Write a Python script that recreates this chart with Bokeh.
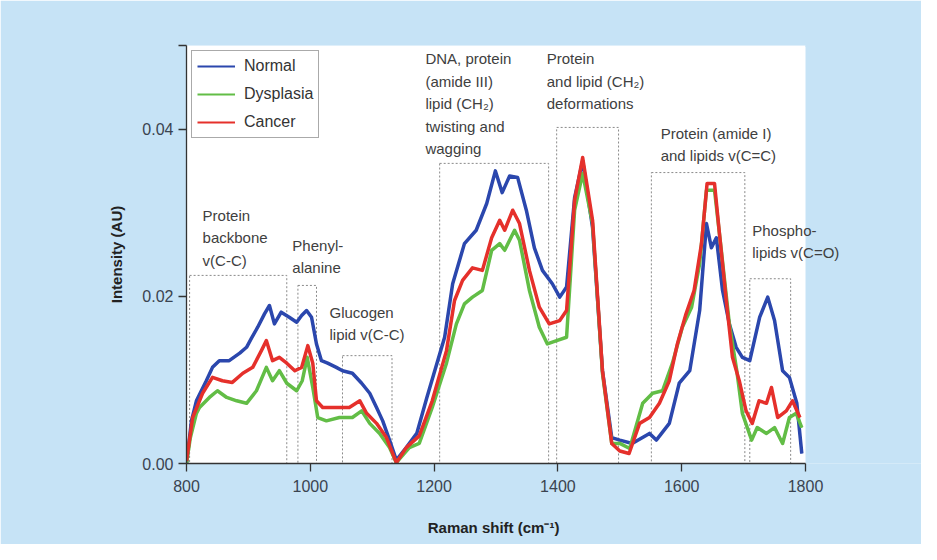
from bokeh.plotting import figure
from bokeh.models import (FixedTicker, Legend, LegendItem, Label, BoxAnnotation, LinearAxis)
from bokeh.embed import file_html
from bokeh.resources import INLINE

# ---- data ----
shift_normal = [800, 808, 816, 832, 842, 853, 869, 886, 897, 905, 915, 926, 934, 942, 953, 966,
                978, 986, 994, 1002, 1010, 1018, 1028, 1042, 1052, 1068, 1083, 1096, 1107, 1117,
                1128, 1139, 1155, 1172, 1188, 1217, 1230, 1249, 1268, 1285, 1299, 1310, 1322,
                1335, 1349, 1362, 1375, 1391, 1403, 1414, 1427, 1440, 1456, 1472, 1487, 1500,
                1520, 1548, 1559, 1580, 1596, 1613, 1629, 1640, 1648, 1656, 1666, 1677, 1688,
                1698, 1710, 1726, 1739, 1750, 1763, 1774, 1786, 1794]
normal = [0.0000, 0.0051, 0.0075, 0.0099, 0.0115, 0.0123, 0.0123, 0.0132, 0.0139, 0.0150,
          0.0163, 0.0179, 0.0189, 0.0167, 0.0181, 0.0175, 0.0169, 0.0177, 0.0183, 0.0175,
          0.0143, 0.0123, 0.0120, 0.0115, 0.0111, 0.0108, 0.0096, 0.0084, 0.0067, 0.0051,
          0.0028, 0.0004, 0.0019, 0.0036, 0.0078, 0.0151, 0.0215, 0.0263, 0.0279, 0.0311,
          0.0350, 0.0324, 0.0344, 0.0342, 0.0303, 0.0258, 0.0231, 0.0215, 0.0199, 0.0211,
          0.0318, 0.0362, 0.0282, 0.0111, 0.0031, 0.0028, 0.0024, 0.0036, 0.0028, 0.0048,
          0.0096, 0.0111, 0.0183, 0.0287, 0.0258, 0.0270, 0.0207, 0.0167, 0.0139, 0.0127,
          0.0123, 0.0175, 0.0199, 0.0171, 0.0111, 0.0103, 0.0072, 0.0012]

shift_dysplasia = [800, 806, 816, 821, 837, 850, 865, 881, 897, 913, 929, 939, 950, 962, 978,
                   987, 995, 1004, 1012, 1026, 1047, 1068, 1083, 1096, 1112, 1128, 1139, 1160,
                   1176, 1197, 1220, 1236, 1249, 1262, 1278, 1293, 1306, 1314, 1330, 1338, 1354,
                   1370, 1383, 1398, 1414, 1427, 1440, 1456, 1472, 1487, 1500, 1516, 1537, 1553,
                   1569, 1585, 1601, 1616, 1629, 1640, 1653, 1664, 1677, 1689, 1698, 1713, 1722,
                   1737, 1750, 1763, 1774, 1785, 1794]
dysplasia = [0.0000, 0.0030, 0.0060, 0.0067, 0.0079, 0.0087, 0.0079, 0.0075, 0.0072, 0.0087,
             0.0115, 0.0099, 0.0111, 0.0096, 0.0087, 0.0099, 0.0127, 0.0091, 0.0055, 0.0051,
             0.0055, 0.0055, 0.0063, 0.0048, 0.0036, 0.0019, 0.0001, 0.0019, 0.0024, 0.0067,
             0.0120, 0.0167, 0.0191, 0.0199, 0.0207, 0.0255, 0.0263, 0.0255, 0.0279, 0.0267,
             0.0207, 0.0163, 0.0143, 0.0147, 0.0151, 0.0303, 0.0347, 0.0287, 0.0108, 0.0024,
             0.0024, 0.0018, 0.0072, 0.0084, 0.0087, 0.0120, 0.0163, 0.0187, 0.0239, 0.0327,
             0.0327, 0.0255, 0.0167, 0.0111, 0.0060, 0.0028, 0.0043, 0.0036, 0.0043, 0.0024,
             0.0055, 0.0060, 0.0043]

shift_cancer = [800, 810, 826, 842, 858, 874, 891, 907, 921, 929, 939, 950, 962, 975, 986, 996,
                1004, 1010, 1020, 1042, 1063, 1080, 1091, 1107, 1123, 1139, 1155, 1176, 1197,
                1220, 1233, 1246, 1262, 1278, 1293, 1306, 1314, 1327, 1338, 1354, 1370, 1386,
                1403, 1414, 1427, 1440, 1456, 1472, 1487, 1500, 1515, 1532, 1548, 1564, 1580,
                1593, 1607, 1620, 1632, 1641, 1653, 1661, 1672, 1682, 1693, 1704, 1714, 1725,
                1737, 1745, 1755, 1769, 1779, 1791]
cancer = [0.0003, 0.0055, 0.0084, 0.0103, 0.0099, 0.0097, 0.0108, 0.0115, 0.0135, 0.0147,
          0.0123, 0.0127, 0.0120, 0.0111, 0.0115, 0.0141, 0.0120, 0.0075, 0.0067, 0.0067,
          0.0067, 0.0075, 0.0060, 0.0048, 0.0031, 0.0001, 0.0019, 0.0033, 0.0075, 0.0135,
          0.0195, 0.0219, 0.0234, 0.0231, 0.0270, 0.0291, 0.0279, 0.0303, 0.0287, 0.0231,
          0.0187, 0.0167, 0.0171, 0.0183, 0.0315, 0.0366, 0.0291, 0.0111, 0.0024, 0.0015,
          0.0012, 0.0048, 0.0055, 0.0072, 0.0099, 0.0143, 0.0179, 0.0207, 0.0263, 0.0335,
          0.0335, 0.0275, 0.0195, 0.0127, 0.0099, 0.0063, 0.0048, 0.0075, 0.0072, 0.0091,
          0.0055, 0.0063, 0.0075, 0.0055]

series_names = ["Normal", "Dysplasia", "Cancer"]
series_colors = ["#2b47ad", "#62bd46", "#e5302b"]

region_left = [805, 980, 1052, 1209, 1398, 1551, 1710]
region_right = [962, 1010, 1132, 1385, 1498, 1702, 1776]
region_top = [0.0225, 0.0213, 0.0129, 0.0359, 0.0402, 0.0348, 0.0221]

label_lines = [
    ["Protein", "backbone", "v(C-C)"],
    ["Phenyl-", "alanine"],
    ["Glucogen", "lipid v(C-C)"],
    ["DNA, protein", "(amide III)", "lipid (CH\u2082)", "twisting and", "wagging"],
    ["Protein", "and lipid (CH\u2082)", "deformations"],
    ["Protein (amide I)", "and lipids v(C=C)"],
    ["Phospho-", "lipids v(C=O)"],
]
label_x = [826, 971, 1031, 1186, 1382, 1566, 1714]
label_y = [0.0297, 0.0261, 0.0181, 0.0484, 0.0484, 0.0395, 0.0279]

x_min, x_max = 800, 1800
x_ticks = [800, 1000, 1200, 1400, 1600, 1800]
y_ticks = [0.0, 0.02, 0.04, 0.05]
y_tick_labels = ["0.00", "0.02", "0.04", ""]
x_title = "Raman shift (cm\u207b\u00b9)"
y_title = "Intensity (AU)"

FONT = "Liberation Sans"
BLUE_BG = "#c6e3f6"

# the frame runs on past 1800 to the figure edge (blue like the border),
# with a white panel behind 800-1800, so labels can spill over the right end
W, H = 921, 544
LEFT = 186
frame_w = W - LEFT
view_end = x_min + frame_w / 0.619

p = figure(width=W, height=H, x_range=(x_min, view_end), y_range=(0, 0.05),
           output_backend="svg", toolbar_location=None,
           min_border_left=LEFT, min_border_right=0,
           min_border_top=45, min_border_bottom=81,
           border_fill_color=BLUE_BG, background_fill_color=BLUE_BG, outline_line_color=None)
p.xgrid.visible = False
p.ygrid.visible = False

p.add_layout(BoxAnnotation(left=x_min, right=x_max, fill_color="white", fill_alpha=1.0,
                           line_color=None, level="underlay"))

# plain blue rule along the top edge of the blue part of the frame (hides a seam)
top_rule = LinearAxis(bounds=(x_max, view_end), ticker=FixedTicker(ticks=[]),
                      axis_line_color=BLUE_BG, axis_line_width=3,
                      major_tick_line_color=None, minor_tick_line_color=None,
                      major_label_text_font_size="0px")
p.add_layout(top_rule, "above")

# region boxes
p.quad(left=region_left, right=region_right, bottom=0, top=region_top,
       fill_color=None, line_color="#8a8a8a", line_dash="2 2", line_width=1)

# region labels
for lx, ly, lines in zip(label_x, label_y, label_lines):
    for i, line in enumerate(lines):
        p.add_layout(Label(x=lx, y=ly, y_offset=-i * 22.5, text=line,
                           text_baseline="middle", text_align="left", text_font=FONT,
                           text_font_size="15px", text_color="#404040"))

# spectra: thin copies (used by the legend) underneath thick lines
xs = [shift_normal, shift_dysplasia, shift_cancer]
ys = [normal, dysplasia, cancer]
items = []
for name, sx, sy, c in zip(series_names, xs, ys, series_colors):
    r = p.line(sx, sy, line_color=c, line_width=2)
    items.append(LegendItem(label=name, renderers=[r]))
for sx, sy, c in zip(xs, ys, series_colors):
    p.line(sx, sy, line_color=c, line_width=3.5, line_join="round")

leg = Legend(items=items, location="top_left", margin=5, padding=5, spacing=8,
             glyph_width=38, glyph_height=20, label_height=20, label_standoff=9,
             border_line_color="#555555", border_line_width=1.5,
             background_fill_color="white", background_fill_alpha=1.0,
             label_text_font=FONT, label_text_font_size="16px", label_text_color="#333333")
p.add_layout(leg)

# axes
xa = p.below[0]
ya = p.left[0]
xa.ticker = FixedTicker(ticks=x_ticks)
xa.bounds = (x_min, x_max)
ya.ticker = FixedTicker(ticks=y_ticks)
ya.major_label_overrides = {t: l for t, l in zip(y_ticks, y_tick_labels)}
ya.axis_label = y_title
# the label is centred on the widened frame; trailing no-break spaces move the
# visible text back under the middle of the 800-1800 span
xa.axis_label = x_title + "\u00a0" * 29
for ax in (xa, ya):
    ax.axis_line_color = "#333333"
    ax.axis_line_width = 1.3
    ax.major_tick_line_color = "#333333"
    ax.major_tick_line_width = 1.3
    ax.major_tick_out = 8
    ax.major_tick_in = 0
    ax.minor_tick_line_color = None
    ax.major_label_text_font = FONT
    ax.major_label_text_font_size = "16px"
    ax.major_label_text_color = "#3a4450"
    ax.axis_label_text_font = FONT
    ax.axis_label_text_font_size = "15px"
    ax.axis_label_text_font_style = "bold"
    ax.axis_label_text_color = "#222222"
xa.major_label_standoff = 8
ya.major_label_standoff = 5
xa.axis_label_standoff = 24
ya.axis_label_standoff = 14

open("out.html", "w").write(file_html(p, INLINE))
